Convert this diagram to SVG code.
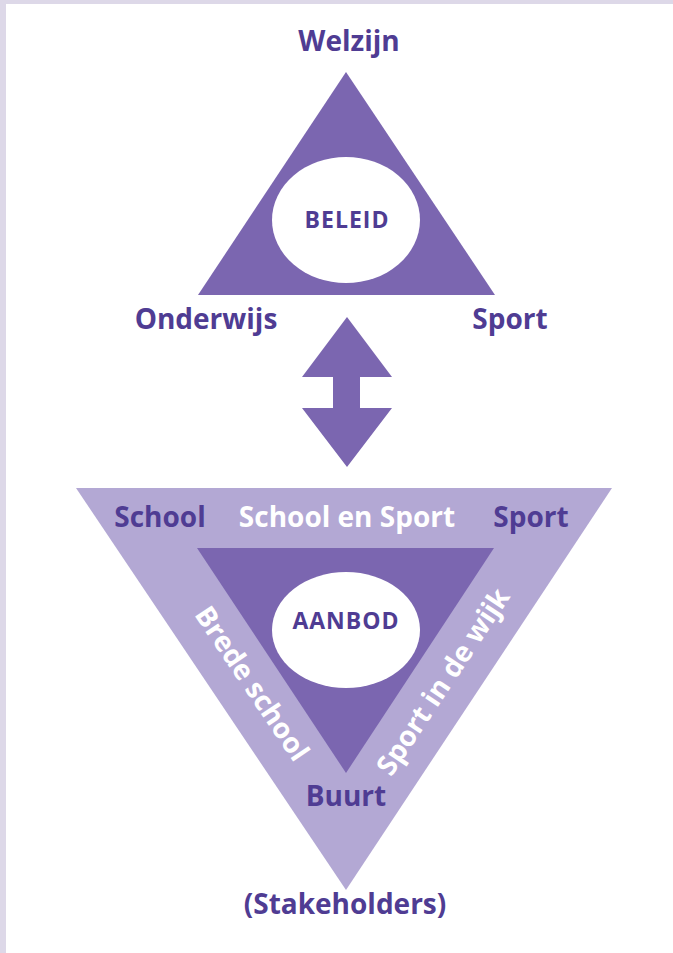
<svg xmlns="http://www.w3.org/2000/svg" width="673" height="953" viewBox="0 0 673 953">
<style>
.lbl{font-family:"Open Sans","Liberation Sans",sans-serif;font-weight:bold;font-size:28px;fill:#4f3c93;text-anchor:middle}
.wht{fill:#ffffff}
.cap{font-size:23px;letter-spacing:1px}
.dark{fill:#7b66b0}
.light{fill:#b3a8d4}
</style>
<rect x="0" y="0" width="673" height="953" fill="#ddd8e8"/>
<rect x="6" y="4" width="667" height="949" fill="#ffffff"/>
<g id="beleid">
<polygon class="dark" points="346,72 495,295 198,295"/>
<ellipse cx="346" cy="220" rx="74" ry="63" fill="#ffffff"/>
<text class="lbl cap" x="347" y="228">BELEID</text>
</g>
<g id="welzijn"><text class="lbl" x="349" y="51">Welzijn</text></g>
<g id="onderwijs"><text class="lbl" x="206" y="329">Onderwijs</text></g>
<g id="sport-top"><text class="lbl" x="510" y="329">Sport</text></g>
<g id="connectors">
<polygon class="dark" points="347,317 392,377 360,377 360,408 392,408 347,467 302,408 333,408 333,377 302,377"/>
</g>
<g id="aanbod">
<polygon class="light" points="76,488 612,488 346,890"/>
<polygon class="dark" points="197,548 494,548 346,773"/>
<ellipse cx="346" cy="630" rx="74" ry="58" fill="#ffffff"/>
<text class="lbl cap" x="346" y="629">AANBOD</text>
</g>
<g id="school"><text class="lbl" x="160" y="527">School</text></g>
<g id="school-en-sport"><text class="lbl wht" x="347" y="527">School en Sport</text></g>
<g id="sport-bottom"><text class="lbl" x="531" y="527">Sport</text></g>
<g id="brede-school"><text class="lbl wht" transform="translate(244,689) rotate(56)">Brede school</text></g>
<g id="sport-in-de-wijk"><text class="lbl wht" transform="translate(451,687) rotate(-56.5)">Sport in de wijk</text></g>
<g id="buurt"><text class="lbl" x="346" y="806">Buurt</text></g>
<g id="stakeholders"><text class="lbl" x="345" y="914">(Stakeholders)</text></g>
</svg>
